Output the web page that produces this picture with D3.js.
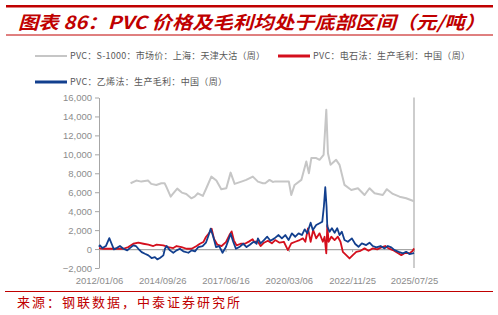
<!DOCTYPE html>
<html>
<head>
<meta charset="utf-8">
<script src="https://cdn.jsdelivr.net/npm/d3@7"></script>
<style>
  html, body { margin: 0; padding: 0; background: #fff; }
  svg { display: block; }
</style>
</head>
<body>
<div id="chart"></div>
<script>
//
// DATA (weekly series thinned to turning points)
//
const seriesNames = [
    'PVC：S-1000：市场价：上海：天津大沽（周）',
    'PVC：电石法：生产毛利：中国（周）',
    'PVC：乙烯法：生产毛利：中国（周）',
]
const xTickLabels = ['2012/01/06', '2014/09/26', '2017/06/16', '2020/03/06', '2022/11/25', '2025/07/25']
const yTickValues = [-2000, 0, 2000, 4000, 6000, 8000, 10000, 12000, 14000, 16000]

// PVC S-1000 market price, Shanghai (yuan/t)
const s1000Price = [
    ['2013-05-16', 6950], ['2013-08-14', 7230], ['2013-11-01', 7120], ['2014-02-14', 7230],
    ['2014-04-06', 6880], ['2014-06-24', 6770], ['2014-09-11', 6950], ['2014-11-02', 6950],
    ['2014-11-28', 6590], ['2015-02-05', 5530], ['2015-03-11', 5820], ['2015-05-19', 6380],
    ['2015-07-30', 5960], ['2015-10-08', 5820], ['2015-12-26', 5360], ['2016-02-17', 5530],
    ['2016-04-08', 5890], ['2016-06-25', 5610], ['2016-08-18', 6420], ['2016-11-05', 7650],
    ['2017-01-23', 7230], ['2017-04-10', 6320], ['2017-06-28', 6420], ['2017-09-04', 8070],
    ['2017-11-06', 6880], ['2018-02-20', 7120], ['2018-05-07', 7300], ['2018-08-19', 7650],
    ['2018-11-07', 7120], ['2019-01-24', 6950], ['2019-03-01', 6950], ['2019-05-08', 7300],
    ['2019-06-29', 7090], ['2019-07-25', 7120], ['2019-10-13', 7120], ['2020-03-07', 7120],
    ['2020-04-14', 5710], ['2020-06-05', 6770], ['2020-09-19', 7300], ['2020-12-06', 9240],
    ['2021-01-16', 8010], ['2021-02-23', 9600], ['2021-05-11', 9600], ['2021-07-02', 9420],
    ['2021-09-04', 9950], ['2021-10-16', 14700], ['2021-11-11', 10120], ['2021-12-22', 8890],
    ['2022-03-20', 9420], ['2022-05-12', 8890], ['2022-07-29', 6770], ['2022-11-13', 6240],
    ['2023-02-25', 6420], ['2023-06-09', 5710], ['2023-08-26', 6420], ['2023-11-14', 5890],
    ['2024-03-22', 5710], ['2024-05-24', 6320], ['2024-08-27', 5820], ['2024-12-10', 5530],
    ['2025-03-24', 5360], ['2025-07-25', 5050],
]

// calcium carbide route gross margin (yuan/t)
const carbideMargin = [
    ['2012-01-06', 100], ['2012-03-14', 30], ['2012-06-26', 30], ['2012-10-09', 30],
    ['2013-01-23', 30], ['2013-04-11', 210], ['2013-06-28', 560], ['2013-09-15', 670],
    ['2013-12-03', 560], ['2014-02-20', 460], ['2014-05-08', 320], ['2014-06-29', 460],
    ['2014-10-13', 390], ['2014-12-30', 210], ['2015-03-18', 100], ['2015-05-09', 320],
    ['2015-07-26', 210], ['2015-10-13', 30], ['2016-01-01', 30], ['2016-03-18', 320],
    ['2016-05-09', 560], ['2016-07-02', 740], ['2016-08-12', 1270], ['2016-10-14', 1800],
    ['2016-11-10', 2150], ['2016-12-16', 1090], ['2017-02-08', 460], ['2017-04-15', 320],
    ['2017-06-22', 740], ['2017-08-14', 1450], ['2017-09-20', 1870], ['2017-10-25', 920],
    ['2017-12-07', 390], ['2018-02-09', 560], ['2018-04-16', 560], ['2018-06-24', 810],
    ['2018-08-15', 1030], ['2018-09-16', 700], ['2018-10-06', 810], ['2018-11-07', 770],
    ['2018-12-19', 320], ['2019-02-10', 670], ['2019-04-12', 880], ['2019-06-14', 600],
    ['2019-08-06', 950], ['2019-10-13', 670], ['2019-12-19', 770], ['2020-02-21', -110],
    ['2020-04-14', 600], ['2020-06-16', 770], ['2020-08-23', 950], ['2020-10-14', 1130],
    ['2020-11-21', 770], ['2021-01-01', 2190], ['2021-02-12', 770], ['2021-03-24', 2010],
    ['2021-05-11', 1130], ['2021-07-02', 1660], ['2021-08-23', 770], ['2021-09-19', 1300],
    ['2021-10-16', -460], ['2021-11-01', 2540], ['2021-11-21', 770], ['2022-01-03', 1300],
    ['2022-02-24', 950], ['2022-04-15', 1300], ['2022-05-27', 770], ['2022-07-03', -290],
    ['2022-08-25', -640], ['2022-10-16', -990], ['2022-12-07', -640], ['2023-01-30', -290],
    ['2023-04-07', -180], ['2023-06-09', 70], ['2023-08-10', -180], ['2023-10-17', 70],
    ['2023-12-25', -30], ['2024-02-27', 180], ['2024-04-29', 320], ['2024-06-20', 70],
    ['2024-08-27', -110], ['2024-11-05', -390], ['2025-01-07', -640], ['2025-03-09', -390],
    ['2025-05-15', -460], ['2025-07-06', -180], ['2025-07-25', 70],
]

// ethylene route gross margin (yuan/t)
const ethyleneMargin = [
    ['2012-01-06', 250], ['2012-01-20', 390], ['2012-03-02', 100], ['2012-04-23', 320],
    ['2012-06-16', 1160], ['2012-07-22', 560], ['2012-08-27', -30], ['2012-10-09', 100],
    ['2012-11-30', 320], ['2013-01-23', 30], ['2013-03-25', -140], ['2013-05-05', 100],
    ['2013-06-28', 390], ['2013-08-08', 320], ['2013-09-15', 30], ['2013-11-06', -320],
    ['2013-12-28', -500], ['2014-02-20', -670], ['2014-04-11', -950], ['2014-06-02', -850],
    ['2014-07-10', -1090], ['2014-08-20', -950], ['2014-10-13', -670], ['2014-11-07', 30],
    ['2014-12-04', 320], ['2015-01-25', -140], ['2015-03-18', -390], ['2015-05-09', -140],
    ['2015-06-30', 30], ['2015-08-22', -240], ['2015-11-10', -390], ['2016-01-01', -140],
    ['2016-02-22', -240], ['2016-04-15', 210], ['2016-06-21', 320], ['2016-08-12', 670],
    ['2016-09-19', 1380], ['2016-10-25', 2150], ['2016-12-07', 1270], ['2017-01-17', 210],
    ['2017-03-09', 320], ['2017-04-30', -390], ['2017-06-22', 210], ['2017-07-29', 920],
    ['2017-09-04', 1620], ['2017-10-16', 740], ['2017-11-26', 30], ['2018-01-19', 210],
    ['2018-03-21', 560], ['2018-05-12', 210], ['2018-07-03', 460], ['2018-08-26', 740],
    ['2018-09-16', 770], ['2018-10-17', 560], ['2018-11-07', 1130], ['2018-12-19', 600],
    ['2019-02-10', 950], ['2019-04-02', 1300], ['2019-05-23', 880], ['2019-07-25', 1130],
    ['2019-09-27', 1480], ['2019-11-18', 1130], ['2020-01-11', 1480], ['2020-03-02', 950],
    ['2020-04-23', 1660], ['2020-06-16', 1300], ['2020-08-07', 1660], ['2020-09-28', 1480],
    ['2020-11-10', 2080], ['2020-12-21', 1660], ['2021-02-12', 2780], ['2021-03-18', 2010],
    ['2021-05-11', 2540], ['2021-07-02', 2720], ['2021-08-14', 2890], ['2021-09-08', 4480],
    ['2021-09-30', 6530], ['2021-10-20', 4480], ['2021-11-01', 2360], ['2021-12-07', 1830],
    ['2022-01-12', 2190], ['2022-02-24', 1720], ['2022-04-06', 2190], ['2022-05-12', 1480],
    ['2022-06-17', 1830], ['2022-07-29', 950], ['2022-09-20', 770], ['2022-11-22', 1130],
    ['2023-01-14', 530], ['2023-03-06', 240], ['2023-04-27', 600], ['2023-07-05', 420],
    ['2023-08-26', 670], ['2023-10-17', 320], ['2023-12-10', 180], ['2024-02-16', 320],
    ['2024-04-18', 70], ['2024-06-09', 320], ['2024-08-02', 180], ['2024-09-23', -110],
    ['2024-11-25', -290], ['2025-02-01', -460], ['2025-03-24', -290], ['2025-05-15', -530],
    ['2025-07-06', -460], ['2025-07-25', -400],
]

//
// GLOBALS
//
const width = 498
const height = 315
const colors = ['#c6c6c6', '#d40f1d', '#123f8e']
const redText = '#c00000'
const axisGrey = '#a6a6a6'
const labelGrey = '#8c8c8c'
const fontFamily = '"Noto Sans CJK SC", "Noto Sans", sans-serif'

const parseDate = d3.timeParse('%Y-%m-%d')
const parseLabel = d3.timeParse('%Y/%m/%d')
const toPoints = (rows) => rows.map(([d, v]) => ({ date: parseDate(d), value: v }))

const svg = d3.select('#chart')
    .append('svg')
    .attr('width', width)
    .attr('height', height)
    .style('font-family', fontFamily)

// header: thick red bar, title, thin rule
svg.append('rect').attr('x', 6).attr('y', 5).attr('width', 487).attr('height', 2.5).attr('fill', redText)
svg.append('text')
    .attr('x', 18)
    .attr('y', 28.5)
    .attr('textLength', 467)
    .attr('lengthAdjust', 'spacingAndGlyphs')
    .style('font-size', '18px')
    .style('font-weight', 'bold')
    .style('font-style', 'italic')
    .attr('fill', redText)
    .text('图表 86：PVC 价格及毛利均处于底部区间（元/吨）')
svg.append('line').attr('x1', 6).attr('x2', 493).attr('y1', 35).attr('y2', 35)
    .attr('stroke', redText).attr('stroke-width', 1)

// legend (text widths matched to the reference)
const legendItems = [
    { x: 35, y: 56, w: 2, len: 195 },
    { x: 278, y: 56, w: 3, len: 157 },
    { x: 35, y: 82, w: 3, len: 157 },
]
legendItems.forEach((item, i) => {
    const g = svg.append('g').attr('transform', `translate(${item.x},${item.y})`)
    g.append('line').attr('x1', 0).attr('x2', 32).attr('y1', 0).attr('y2', 0)
        .attr('stroke', colors[i]).attr('stroke-width', item.w)
    g.append('text').attr('x', 35).attr('y', 3.2)
        .attr('textLength', item.len)
        .attr('lengthAdjust', 'spacing')
        .style('font-size', '9px').attr('fill', '#595959')
        .text(seriesNames[i])
})

// scales
const plot = { left: 99, right: 414, top: 97.5, bottom: 268 }
const x = d3.scaleTime()
    .domain([parseDate('2012-01-06'), parseDate('2025-07-25')])
    .range([plot.left, plot.right])
const y = d3.scaleLinear()
    .domain([-2000, 16000])
    .range([plot.bottom, plot.top])

// y axis on the left
const yAxis = svg.append('g')
    .attr('transform', `translate(${plot.left},0)`)
    .call(d3.axisLeft(y).tickValues(yTickValues).tickSize(4).tickSizeOuter(0).tickPadding(3)
        .tickFormat(d3.format(',')))
yAxis.select('.domain').attr('stroke', axisGrey)
yAxis.selectAll('.tick line').attr('stroke', axisGrey)
yAxis.selectAll('.tick text').attr('fill', labelGrey).style('font-size', '9.5px')
    .style('font-family', '"Liberation Sans", Arial, sans-serif')

// right border line
svg.append('line')
    .attr('x1', plot.right).attr('x2', plot.right)
    .attr('y1', y(16000)).attr('y2', y(-2000))
    .attr('stroke', '#bdbdbd').attr('stroke-width', 1.5)

// x axis crosses at zero, labels sit below the plot
const xAxis = svg.append('g')
    .attr('transform', `translate(0,${y(0)})`)
    .call(d3.axisBottom(x).tickValues(xTickLabels.map(parseLabel)).tickSize(3).tickSizeOuter(0)
        .tickPadding(25).tickFormat(d3.timeFormat('%Y/%m/%d')))
xAxis.select('.domain').attr('stroke', axisGrey).attr('stroke-width', 1.2)
xAxis.selectAll('.tick line').attr('stroke', axisGrey)
xAxis.selectAll('.tick text').attr('fill', labelGrey).style('font-size', '9.5px')
    .style('font-family', '"Liberation Sans", Arial, sans-serif')

// series lines
const line = d3.line()
    .x((d) => x(d.date))
    .y((d) => y(d.value))
    .curve(d3.curveLinear)

const series = [s1000Price, carbideMargin, ethyleneMargin]
series.forEach((rows, i) => {
    svg.append('path')
        .datum(toPoints(rows))
        .attr('d', line)
        .attr('fill', 'none')
        .attr('stroke', colors[i])
        .attr('stroke-width', i === 0 ? 2 : 1.8)
        .attr('stroke-linejoin', 'round')
})

// footer
svg.append('line').attr('x1', 5).attr('x2', 493).attr('y1', 291.5).attr('y2', 291.5)
    .attr('stroke', redText).attr('stroke-width', 1)
svg.append('text')
    .attr('x', 17)
    .attr('y', 307)
    .attr('textLength', 223)
    .attr('lengthAdjust', 'spacing')
    .style('font-size', '13px')
    .attr('fill', redText)
    .text('来源：钢联数据，中泰证券研究所')
</script>
</body>
</html>
